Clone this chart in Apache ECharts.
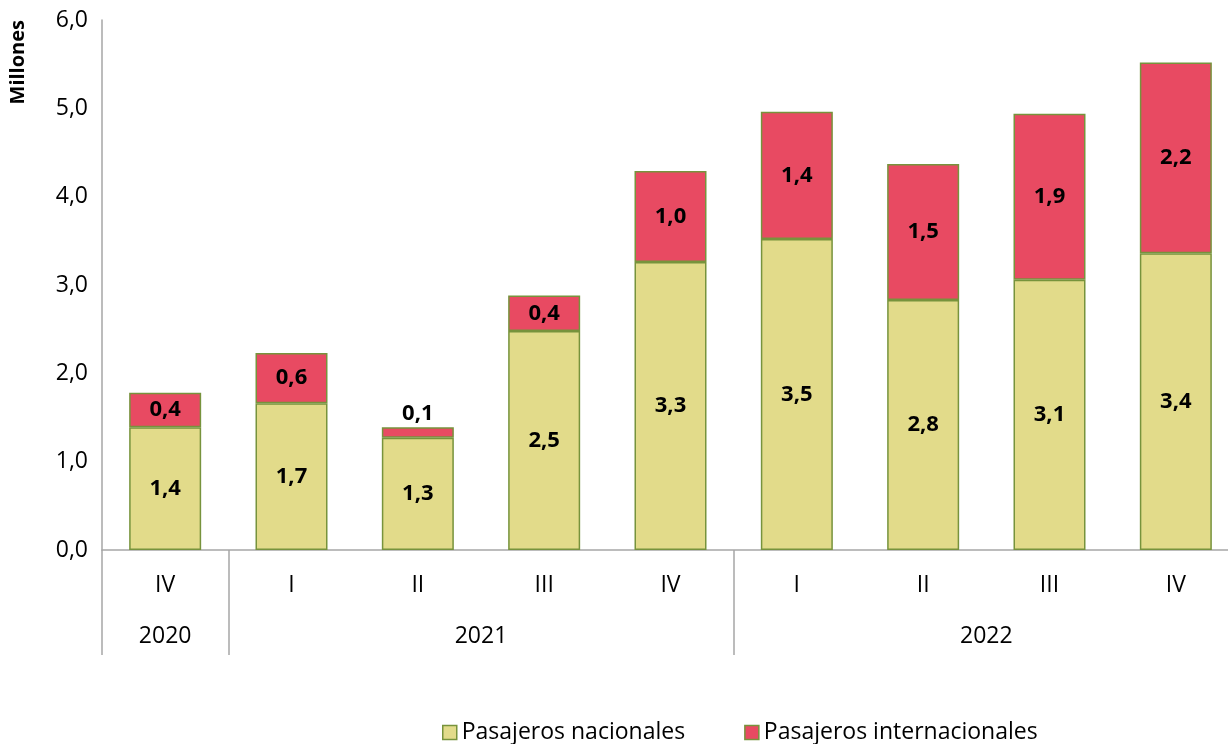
<!DOCTYPE html>
<html>
<head>
<meta charset="utf-8">
<script src="https://cdn.jsdelivr.net/npm/echarts@6/dist/echarts.min.js"></script>
<style>html,body{margin:0;padding:0;background:#fff;}#c{width:1228px;height:744px;}</style>
</head>
<body>
<div id="c"></div>
<script>
const quarters = ['IV','I','II','III','IV','I','II','III','IV'];
const years = ['2020','2021','2022'];
const yearSpans = [1, 4, 4];
const nacionales = [1.39, 1.66, 1.27, 2.48, 3.26, 3.52, 2.83, 3.06, 3.36];
const internacionales = [0.39, 0.57, 0.12, 0.40, 1.03, 1.44, 1.54, 1.88, 2.16];
const yTicks = [0, 1, 2, 3, 4, 5, 6];

const bounds = [0];
yearSpans.forEach(s => bounds.push(bounds[bounds.length - 1] + s));
const centers = yearSpans.map((s, i) => bounds[i] + s / 2);
const fmt = v => v.toFixed(1).replace('.', ',');
const FONT = '"Open Sans", sans-serif';

const chart = echarts.init(document.getElementById('c'), null, {renderer: 'canvas'});
chart.setOption({
  animation: false,
  grid: {left: 102, width: 1137, top: 20, bottom: 194, containLabel: false, outerBoundsMode: 'none'},
  legend: {
    left: 437, top: 716, icon: 'rect',
    itemWidth: 14, itemHeight: 14, itemGap: 59,
    itemStyle: {borderColor: '#77933C', borderWidth: 1.5},
    textStyle: {fontFamily: FONT, fontSize: 23, color: '#000'},
    data: ['Pasajeros nacionales', 'Pasajeros internacionales']
  },
  graphic: [{
    type: 'text', left: 8, top: 20, rotation: Math.PI / 2,
    style: {text: 'Millones', font: 'bold 20px ' + FONT, fill: '#000'}
  }],
  xAxis: [{
    type: 'category', data: quarters, position: 'bottom',
    axisLine: {lineStyle: {color: '#A6A6A6', width: 1.5}},
    axisTick: {show: false},
    axisLabel: {margin: 24, fontFamily: FONT, fontSize: 23, color: '#000'}
  }, {
    type: 'value', position: 'bottom', min: 0, max: bounds[bounds.length - 1],
    axisLine: {show: false},
    splitLine: {show: false},
    axisTick: {show: true, customValues: bounds.slice(0, -1), length: 105, lineStyle: {color: '#A6A6A6', width: 1.5}},
    axisLabel: {
      customValues: centers, margin: 75, fontFamily: FONT, fontSize: 23, color: '#000',
      formatter: v => { const i = centers.indexOf(v); return i >= 0 ? years[i] : ''; }
    }
  }],
  yAxis: {
    type: 'value', min: yTicks[0], max: yTicks[yTicks.length - 1], interval: 1,
    axisLine: {show: true, lineStyle: {color: '#A6A6A6', width: 1.5}},
    axisTick: {show: false},
    splitLine: {show: false},
    axisLabel: {margin: 14, fontFamily: FONT, fontSize: 23, color: '#000', formatter: v => fmt(v)}
  },
  series: [{
    name: 'Pasajeros nacionales', type: 'bar', stack: 't', barWidth: 72, xAxisIndex: 0,
    data: nacionales,
    itemStyle: {color: '#E2DB8A', borderColor: '#77933C', borderWidth: 1.5},
    label: {show: true, position: 'inside', fontFamily: FONT, fontSize: 22, fontWeight: 'bold', color: '#000',
      formatter: p => fmt(p.value)}
  }, {
    name: 'Pasajeros internacionales', type: 'bar', stack: 't', barWidth: 72, xAxisIndex: 0,
    data: internacionales.map(v => v < 0.2 ? {value: v, label: {position: 'top', distance: 2}} : v),
    itemStyle: {color: '#E84A62', borderColor: '#77933C', borderWidth: 1.5},
    label: {show: true, position: 'inside', fontFamily: FONT, fontSize: 22, fontWeight: 'bold', color: '#000',
      formatter: p => fmt(p.value)}
  }]
});
</script>
</body>
</html>
